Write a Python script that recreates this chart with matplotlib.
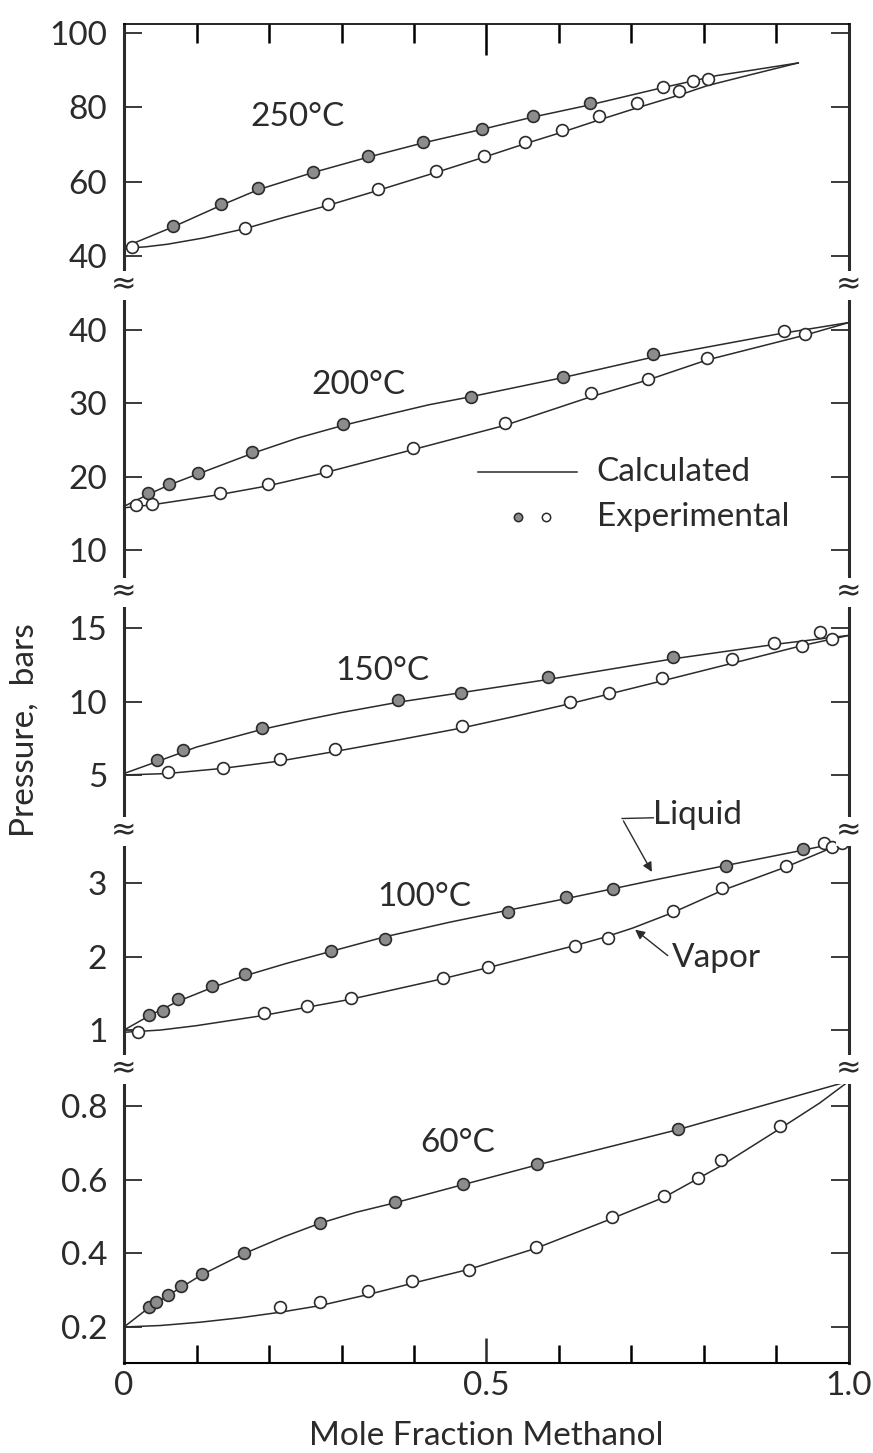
import matplotlib
matplotlib.use("Agg")
import matplotlib.pyplot as plt
from matplotlib.ticker import FixedLocator, NullFormatter

plt.rcParams['font.family'] = ['Lato', 'DejaVu Sans']

# ---- data: experimental points and calculated curves, one block per temperature ----
# 250 C
x_liq_250 = [0.068, 0.134, 0.185, 0.26, 0.337, 0.412, 0.494, 0.564, 0.643]
p_liq_250 = [47.9, 53.9, 58.2, 62.6, 66.9, 70.7, 74.3, 77.8, 81.1]
x_vap_250 = [0.011, 0.167, 0.282, 0.35, 0.431, 0.497, 0.553, 0.604, 0.655, 0.708, 0.743, 0.766, 0.785, 0.805]
p_vap_250 = [42.4, 47.6, 53.9, 58.0, 62.9, 67.0, 70.7, 73.8, 77.8, 81.1, 85.4, 84.4, 87.0, 87.6]
xc_liq_250 = [0, 0.068, 0.134, 0.185, 0.26, 0.337, 0.412, 0.494, 0.564, 0.643, 0.74, 0.818, 0.868, 0.93]
pc_liq_250 = [42.3, 47.8, 53.6, 57.8, 62.4, 66.6, 70.4, 74.1, 77.4, 80.7, 85.2, 88.6, 90.1, 92.0]
xc_vap_250 = [0, 0.03, 0.06, 0.11, 0.167, 0.22, 0.282, 0.35, 0.431, 0.497, 0.553, 0.604, 0.655, 0.708,
              0.767, 0.805, 0.868, 0.93]
pc_vap_250 = [42.0, 42.4, 43.1, 44.8, 47.3, 50.3, 53.6, 57.6, 62.5, 66.6, 70.2, 73.3, 76.6, 79.9,
              83.4, 85.9, 89.0, 92.0]

# 200 C
x_liq_200 = [0.033, 0.062, 0.102, 0.177, 0.302, 0.478, 0.605, 0.730]
p_liq_200 = [17.8, 19.0, 20.5, 23.4, 27.2, 30.9, 33.6, 36.7]
x_vap_200 = [0.016, 0.038, 0.132, 0.199, 0.278, 0.398, 0.525, 0.644, 0.723, 0.804, 0.911, 0.94]
p_vap_200 = [16.2, 16.3, 17.8, 19.0, 20.8, 23.9, 27.3, 31.4, 33.3, 36.2, 39.9, 39.5]
xc_liq_200 = [0, 0.033, 0.062, 0.102, 0.177, 0.24, 0.302, 0.36, 0.42, 0.478, 0.605, 0.73, 0.9, 1.0]
pc_liq_200 = [16.0, 17.6, 18.9, 20.4, 23.2, 25.3, 27.0, 28.4, 29.8, 30.9, 33.5, 36.3, 39.4, 41.0]
xc_vap_200 = [0, 0.038, 0.132, 0.199, 0.278, 0.398, 0.525, 0.644, 0.723, 0.804, 0.94, 1.0]
pc_vap_200 = [15.8, 16.2, 17.6, 18.8, 20.6, 23.7, 27.0, 30.9, 33.2, 35.9, 39.3, 41.0]

# 150 C
x_liq_150 = [0.045, 0.081, 0.19, 0.378, 0.465, 0.585, 0.757]
p_liq_150 = [6.0, 6.7, 8.2, 10.1, 10.6, 11.7, 13.0]
x_vap_150 = [0.06, 0.136, 0.215, 0.291, 0.466, 0.615, 0.669, 0.742, 0.839, 0.897, 0.935, 0.96, 0.977]
p_vap_150 = [5.2, 5.5, 6.1, 6.8, 8.3, 10.0, 10.6, 11.6, 12.9, 14.0, 13.8, 14.7, 14.25]
xc_liq_150 = [0, 0.045, 0.1, 0.19, 0.25, 0.3, 0.378, 0.465, 0.585, 0.757, 0.9, 1.0]
pc_liq_150 = [5.1, 5.9, 6.9, 8.1, 8.75, 9.25, 9.95, 10.6, 11.5, 12.9, 13.9, 14.5]
xc_vap_150 = [0, 0.06, 0.136, 0.215, 0.291, 0.38, 0.466, 0.54, 0.615, 0.742, 0.839, 0.935, 1.0]
pc_vap_150 = [5.0, 5.1, 5.45, 5.95, 6.6, 7.4, 8.2, 9.0, 9.85, 11.4, 12.6, 13.8, 14.5]

# 100 C
x_liq_100 = [0.034, 0.054, 0.074, 0.122, 0.167, 0.285, 0.36, 0.529, 0.61, 0.674, 0.83, 0.937]
p_liq_100 = [1.2, 1.26, 1.42, 1.6, 1.76, 2.07, 2.24, 2.61, 2.81, 2.92, 3.23, 3.47]
x_vap_100 = [0.019, 0.193, 0.252, 0.313, 0.44, 0.502, 0.622, 0.668, 0.757, 0.825, 0.913, 0.965, 0.977, 0.99]
p_vap_100 = [0.97, 1.23, 1.33, 1.44, 1.71, 1.86, 2.14, 2.25, 2.62, 2.93, 3.24, 3.54, 3.49, 3.55]
xc_liq_100 = [0, 0.034, 0.074, 0.122, 0.167, 0.225, 0.285, 0.36, 0.45, 0.529, 0.61, 0.735, 0.83, 0.937, 1.0]
pc_liq_100 = [1.0, 1.19, 1.39, 1.58, 1.74, 1.91, 2.07, 2.27, 2.47, 2.63, 2.79, 3.05, 3.24, 3.45, 3.58]
xc_vap_100 = [0, 0.05, 0.1, 0.193, 0.252, 0.313, 0.44, 0.502, 0.562, 0.622, 0.665, 0.702, 0.757,
              0.825, 0.913, 1.0]
pc_vap_100 = [0.97, 1.0, 1.06, 1.2, 1.31, 1.42, 1.7, 1.85, 2.0, 2.15, 2.27, 2.39, 2.6,
              2.9, 3.22, 3.58]

# 60 C
x_liq_60 = [0.034, 0.044, 0.06, 0.079, 0.108, 0.166, 0.27, 0.374, 0.467, 0.57, 0.764]
p_liq_60 = [0.254, 0.268, 0.287, 0.311, 0.344, 0.401, 0.483, 0.54, 0.589, 0.644, 0.739]
x_vap_60 = [0.215, 0.27, 0.336, 0.397, 0.476, 0.568, 0.673, 0.745, 0.792, 0.823, 0.905]
p_vap_60 = [0.254, 0.268, 0.298, 0.325, 0.355, 0.418, 0.5, 0.556, 0.605, 0.654, 0.747]
xc_liq_60 = [0, 0.034, 0.06, 0.108, 0.166, 0.22, 0.27, 0.32, 0.374, 0.467, 0.57, 0.764, 1.0]
pc_liq_60 = [0.2, 0.252, 0.285, 0.343, 0.4, 0.445, 0.482, 0.512, 0.538, 0.587, 0.641, 0.737, 0.869]
xc_vap_60 = [0, 0.05, 0.105, 0.16, 0.215, 0.27, 0.336, 0.4, 0.476, 0.568, 0.673, 0.745, 0.823,
             0.905, 0.96, 1.0]
pc_vap_60 = [0.2, 0.204, 0.213, 0.225, 0.24, 0.258, 0.288, 0.32, 0.357, 0.414, 0.495, 0.553, 0.638,
             0.74, 0.81, 0.869]

temps = ["250°C", "200°C", "150°C", "100°C", "60°C"]
y_ticks = [[40, 60, 80, 100], [10, 20, 30, 40], [5, 10, 15], [1, 2, 3], [0.2, 0.4, 0.6, 0.8]]
y_ticklabels = [["40", "60", "80", "100"], ["10", "20", "30", "40"], ["5", "10", "15"],
                ["1", "2", "3"], ["0.2", "0.4", "0.6", "0.8"]]

panels = [
    (x_liq_250, p_liq_250, x_vap_250, p_vap_250, xc_liq_250, pc_liq_250, xc_vap_250, pc_vap_250),
    (x_liq_200, p_liq_200, x_vap_200, p_vap_200, xc_liq_200, pc_liq_200, xc_vap_200, pc_vap_200),
    (x_liq_150, p_liq_150, x_vap_150, p_vap_150, xc_liq_150, pc_liq_150, xc_vap_150, pc_vap_150),
    (x_liq_100, p_liq_100, x_vap_100, p_vap_100, xc_liq_100, pc_liq_100, xc_vap_100, pc_vap_100),
    (x_liq_60, p_liq_60, x_vap_60, p_vap_60, xc_liq_60, pc_liq_60, xc_vap_60, pc_vap_60),
]

# axis limits per panel, chosen so every panel keeps the same spacing between ticks
y_limits = [(32.1, 102.5), (4.35, 46.1), (1.19, 17.45), (0.47, 3.71), (0.102, 0.902)]
heights = [261, 307, 239, 238, 294]
label_pos = [(0.174, 77.3), (0.259, 32.5), (0.291, 12.1), (0.349, 2.81), (0.408, 0.70)]

ink = '#2b2b2b'
shade = '#8c8c8c'
fs = 24

fig = plt.figure(figsize=(8.73, 14.53), dpi=100)
gs = fig.add_gridspec(5, 1, height_ratios=heights, hspace=0,
                      left=124 / 873, right=849 / 873, top=1 - 24 / 1453, bottom=1 - 1363 / 1453)
axes = [fig.add_subplot(gs[i]) for i in range(5)]

for i, ax in enumerate(axes):
    xl, pl, xv, pv, xcl, pcl, xcv, pcv = panels[i]
    ax.plot(xcl, pcl, color=ink, lw=1.1, zorder=2)
    ax.plot(xcv, pcv, color=ink, lw=1.1, zorder=2)
    ax.plot(xv, pv, 'o', ms=8.5, mfc='white', mec=ink, mew=1.2, zorder=3)
    ax.plot(xl, pl, 'o', ms=8.5, mfc=shade, mec=ink, mew=1.2, zorder=4)

    ax.set_xlim(0, 1)
    ax.set_ylim(*y_limits[i])
    ax.yaxis.set_major_locator(FixedLocator(y_ticks[i]))
    ax.set_yticklabels(y_ticklabels[i])
    ax.tick_params(axis='y', direction='in', left=True, right=True, length=13, width=1.3,
                   labelsize=fs, pad=12, colors=ink)

    for side in ['left', 'right']:
        ax.spines[side].set_linewidth(2.2)
        ax.spines[side].set_color(ink)
    ax.spines['top'].set_visible(i == 0)
    ax.spines['bottom'].set_visible(i == 4)
    ax.spines['top'].set_linewidth(1.2)
    ax.spines['bottom'].set_linewidth(1.5)

    ax.text(label_pos[i][0], label_pos[i][1], temps[i], fontsize=fs, color=ink,
            ha='left', va='center')

    if i == 0:
        ax.xaxis.set_ticks_position('top')
        ax.set_xticks([0.5])
        ax.set_xticks([0.1, 0.2, 0.3, 0.4, 0.6, 0.7, 0.8, 0.9], minor=True)
        ax.tick_params(axis='x', which='major', direction='in', length=22, width=1.8, labeltop=False)
        ax.tick_params(axis='x', which='minor', direction='in', length=14, width=1.8)
        ax.xaxis.set_minor_formatter(NullFormatter())
    elif i == 4:
        ax.set_xticks([0, 0.5, 1.0])
        ax.set_xticklabels(["0", "0.5", "1.0"])
        ax.set_xticks([0.1, 0.2, 0.3, 0.4, 0.6, 0.7, 0.8, 0.9], minor=True)
        ax.tick_params(axis='x', which='major', direction='in', length=18, width=1.8,
                       labelsize=fs, pad=6, colors=ink)
        ax.tick_params(axis='x', which='minor', direction='in', length=13, width=1.8)
        ax.set_xlabel("Mole Fraction Methanol", fontsize=fs, color=ink, labelpad=14)
    else:
        ax.set_xticks([])

    # break marks where two panels meet: gap in the spine plus a pair of squiggles
    if i > 0:
        for xb in (0, 1):
            ax.text(xb, 1, '≈', transform=ax.transAxes, fontsize=22, color=ink,
                    family=['DejaVu Sans'], fontweight='normal', ha='center', va='center',
                    zorder=10, clip_on=False,
                    bbox=dict(boxstyle='square,pad=0', fc='white', ec='none'))

# legend drawn inside the 200 C panel
ax200 = axes[1]
ax200.plot([0.488, 0.625], [20.7, 20.7], color=ink, lw=1.1)
ax200.text(0.652, 20.7, "Calculated", fontsize=fs, color=ink, ha='left', va='center')
ax200.plot([0.543], [14.6], 'o', ms=6, mfc=shade, mec=ink, mew=1.1)
ax200.plot([0.582], [14.6], 'o', ms=6, mfc='white', mec=ink, mew=1.1)
ax200.text(0.652, 14.6, "Experimental", fontsize=fs, color=ink, ha='left', va='center')

# phase labels with leaders in the 100 C panel
ax100 = axes[3]
ax100.plot([0.73, 0.687], [3.89, 3.88], color=ink, lw=1.0, clip_on=False, zorder=6)
ax100.annotate("", xy=(0.73, 3.12), xytext=(0.687, 3.88),
               arrowprops=dict(arrowstyle='-|>', color=ink, lw=1.0, mutation_scale=14),
               annotation_clip=False)
ax100.text(0.73, 3.93, "Liquid", fontsize=fs, color=ink, ha='left', va='center', clip_on=False)
ax100.annotate("", xy=(0.702, 2.39), xytext=(0.753, 1.99),
               arrowprops=dict(arrowstyle='-|>', color=ink, lw=1.0, mutation_scale=14))
ax100.text(0.756, 1.98, "Vapor", fontsize=fs, color=ink, ha='left', va='center')

fig.text(25 / 873, 1 - 730 / 1453, "Pressure,  bars", rotation=90, fontsize=fs, color=ink,
         ha='center', va='center')

fig.savefig("out.png", dpi=100, facecolor='white')
